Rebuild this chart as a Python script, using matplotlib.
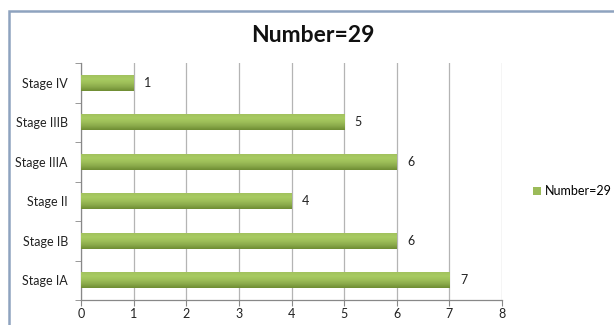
import numpy as np
import matplotlib
matplotlib.use("Agg")
import matplotlib.pyplot as plt
from matplotlib.patches import Rectangle
from matplotlib.colors import LinearSegmentedColormap

stages = ["Stage IA", "Stage IB", "Stage II", "Stage IIIA", "Stage IIIB", "Stage IV"]
counts = [7, 6, 4, 6, 5, 1]
series_name = "Number=29"
x_ticks = [0, 1, 2, 3, 4, 5, 6, 7, 8]

plt.rcParams["font.family"] = ["Lato", "DejaVu Sans"]

fig = plt.figure(figsize=(6.14, 3.25), dpi=100)
fig.patch.set_facecolor("white")

# chart-area border
frame = Rectangle((9 / 614, -0.05), 1.2, 1 - 11 / 325 + 0.05, transform=fig.transFigure,
                  fill=False, edgecolor="#8EA3BF", linewidth=1.8)
fig.add_artist(frame)

ax = fig.add_axes([81 / 614, 1 - 300 / 325, (502 - 81) / 614, (300 - 63) / 325])

green = LinearSegmentedColormap.from_list(
    "bar", ["#6F8C33", "#89A94A", "#9DBE58", "#A8CB62", "#A2C25E"])
bar_h = 0.4
y = np.arange(len(stages))
bars = ax.barh(y, counts, height=bar_h, color="#9BBB59", zorder=3, label=series_name)
grad = np.linspace(0, 1, 64).reshape(-1, 1)
for rect in bars:
    x0, y0 = rect.get_x(), rect.get_y()
    w, h = rect.get_width(), rect.get_height()
    im = ax.imshow(grad, cmap=green, aspect="auto", extent=(x0, x0 + w, y0, y0 + h),
                   origin="lower", zorder=3.5, interpolation="bilinear")
    im.set_clip_path(rect)
    rect.set_facecolor("none")

for yi, v in zip(y, counts):
    ax.text(v + 0.2, yi, str(v), va="center", ha="left", fontsize=9, color="#222222")

ax.set_xlim(0, 8)
ax.set_ylim(-0.5, len(stages) - 0.5)
ax.set_xticks(x_ticks)
ax.set_xticklabels([str(t) for t in x_ticks], fontsize=9, color="#222222")
ax.set_yticks(y)
ax.set_yticklabels(stages, fontsize=9, color="#222222")
ax.set_yticks(np.arange(-0.5, len(stages)), minor=True)
ax.tick_params(axis="y", which="major", length=0, pad=9.5)
ax.tick_params(axis="y", which="minor", length=4, color="#888888", direction="out")
ax.tick_params(axis="x", length=4, color="#888888", direction="out", pad=2)
ax.grid(axis="x", color="#B4B4B4", linewidth=0.9, zorder=0)
for s in ["top", "right"]:
    ax.spines[s].set_visible(False)
for s in ["left", "bottom"]:
    ax.spines[s].set_color("#888888")
    ax.spines[s].set_linewidth(0.9)

fig.text(313 / 614, 1 - 35 / 325, series_name, ha="center", va="center",
         fontsize=16.5, fontweight="bold", color="#111111")

leg = fig.legend(handles=[bars], labels=[series_name], loc="center left",
                 bbox_to_anchor=(527 / 614, 1 - 191 / 325), frameon=False, fontsize=9,
                 handlelength=0.6, handleheight=0.6, handletextpad=0.3, borderpad=0)
for h in leg.legend_handles:
    h.set_facecolor("#9BBB59")

fig.savefig("out.png", dpi=100, facecolor="white")
